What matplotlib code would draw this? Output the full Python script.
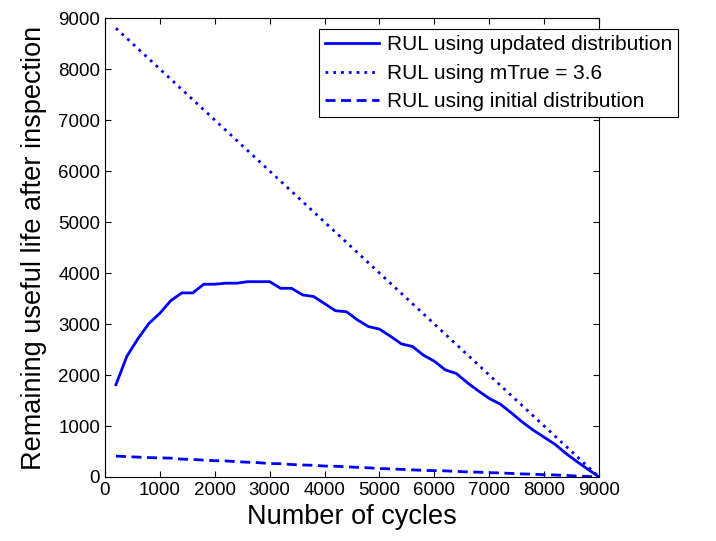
import matplotlib
matplotlib.use("Agg")
import matplotlib.pyplot as plt

plt.rcParams["font.family"] = ["Liberation Sans", "DejaVu Sans"]

# inspection points (cycles)
cycles = [200, 400, 600, 800, 1000, 1200, 1400, 1600, 1800, 2000,
          2200, 2400, 2600, 2800, 3000, 3200, 3400, 3600, 3800, 4000,
          4200, 4400, 4600, 4800, 5000, 5200, 5400, 5600, 5800, 6000,
          6200, 6400, 6600, 6800, 7000, 7200, 7400, 7600, 7800, 8000,
          8200, 8400, 8600, 8800, 9000]

rul_updated = [1810, 2370, 2710, 3010, 3210, 3460, 3610, 3610, 3780, 3780,
               3800, 3800, 3830, 3830, 3830, 3700, 3700, 3570, 3540, 3400,
               3260, 3240, 3080, 2950, 2900, 2760, 2610, 2560, 2390, 2270,
               2100, 2030, 1850, 1690, 1540, 1430, 1260, 1080, 920, 780,
               640, 460, 300, 150, 0]

rul_true = [8800, 8600, 8400, 8200, 8000, 7800, 7600, 7400, 7200, 7000,
            6800, 6600, 6400, 6200, 6000, 5800, 5600, 5400, 5200, 5000,
            4800, 4600, 4400, 4200, 4000, 3800, 3600, 3400, 3200, 3000,
            2800, 2600, 2400, 2200, 2000, 1800, 1600, 1400, 1200, 1000,
            800, 600, 400, 200, 0]

rul_initial = [410, 400, 390, 380, 375, 370, 350, 345, 330, 320,
               315, 300, 290, 280, 265, 260, 245, 235, 230, 215,
               210, 200, 190, 180, 165, 160, 150, 140, 130, 125,
               120, 110, 100, 95, 85, 80, 70, 60, 55, 45,
               40, 30, 20, 10, 0]

fig = plt.figure(figsize=(7.16, 5.41), dpi=100)
ax = fig.add_axes([0.1466, 0.1183, 0.69, 0.8484])

ax.plot(cycles, rul_updated, color="#0000ff", linestyle="-", linewidth=2.0,
        label="RUL using updated distribution")
ax.plot(cycles, rul_true, color="#0000ff", linestyle=(0, (1, 1.8)), linewidth=2.0,
        label="RUL using mTrue = 3.6")
ax.plot(cycles, rul_initial, color="#0000ff", linestyle=(0, (3.6, 2.0)), linewidth=2.0,
        label="RUL using initial distribution")

ax.set_xlim(0, 9000)
ax.set_ylim(0, 9000)
ax.set_xticks(range(0, 9001, 1000))
ax.set_yticks(range(0, 9001, 1000))
ax.tick_params(direction="in", top=True, right=True, length=4, labelsize=13.5)
for s in ax.spines.values():
    s.set_linewidth(0.8)

ax.set_xlabel("Number of cycles", fontsize=19.5, labelpad=4)
ax.set_ylabel("Remaining useful life after inspection", fontsize=19.5, labelpad=8)

leg = ax.legend(loc="upper right", bbox_to_anchor=(0.947, 0.946),
                bbox_transform=fig.transFigure, fontsize=15, frameon=True,
                fancybox=False, edgecolor="black", framealpha=1,
                handlelength=2.6, handletextpad=0.35, labelspacing=0.45,
                borderpad=0.3, borderaxespad=0)
leg.get_frame().set_linewidth(0.8)

fig.savefig("out.png", dpi=100)
